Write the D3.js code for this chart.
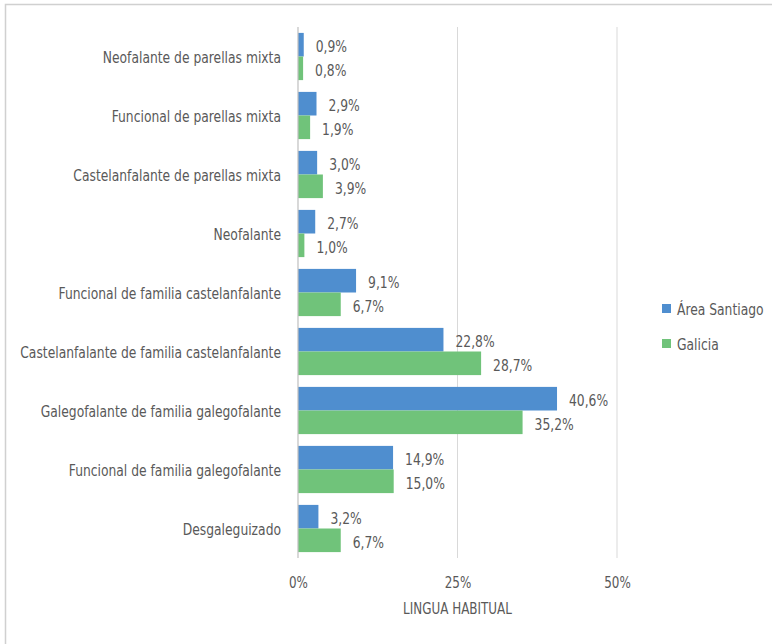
<!DOCTYPE html>
<html>
<head>
<meta charset="utf-8">
<script src="https://cdn.jsdelivr.net/npm/d3@7"></script>
<style>
  html, body { margin: 0; padding: 0; background: #fff; }
  svg { display: block; }
  text { font-family: "DejaVu Sans Condensed", "Roboto", sans-serif; fill: #595959; }
</style>
</head>
<body>
<svg id="chart" width="772" height="644"></svg>
<script>
// Categories, top to bottom
const categories = [
  "Neofalante de parellas mixta",
  "Funcional de parellas mixta",
  "Castelanfalante de parellas mixta",
  "Neofalante",
  "Funcional de familia castelanfalante",
  "Castelanfalante de familia castelanfalante",
  "Galegofalante de familia galegofalante",
  "Funcional de familia galegofalante",
  "Desgaleguizado"
];
const seriesNames = ["Área Santiago", "Galicia"];
const areaSantiago = [0.9, 2.9, 3.0, 2.7, 9.1, 22.8, 40.6, 14.9, 3.2];
const galicia      = [0.8, 1.9, 3.9, 1.0, 6.7, 28.7, 35.2, 15.0, 6.7];
const tickValues = [0, 25, 50];
const axisTitle = "LINGUA HABITUAL";
const colors = ["#4F8ECF", "#70C37A"];

const fmt = v => d3.format(".1f")(v).replace(".", ",") + "%";
const FS = 16.5;

const svg = d3.select("#chart");

// outer frame
svg.append("rect")
  .attr("x", 5.5).attr("y", 4.5)
  .attr("width", 800).attr("height", 700)
  .attr("fill", "none").attr("stroke", "#d0d0d0").attr("stroke-width", 1.5);

const x = d3.scaleLinear().domain([0, 50]).range([298, 617]);
const y = d3.scaleBand().domain(categories).range([27, 558]).paddingInner(0.2).paddingOuter(0.1);
const ySub = d3.scaleBand().domain(seriesNames).range([0, y.bandwidth()]);

// vertical grid lines
svg.append("g").selectAll("line")
  .data(tickValues.slice(1))
  .join("line")
  .attr("x1", d => x(d)).attr("x2", d => x(d))
  .attr("y1", 27).attr("y2", 558)
  .attr("stroke", "#d9d9d9").attr("stroke-width", 1);

// x tick labels
const xAxis = d3.axisBottom(x).tickValues(tickValues).tickFormat(d => d + "%").tickSize(0).tickPadding(0);
const gx = svg.append("g").attr("transform", "translate(0,577)").call(xAxis);
gx.select(".domain").remove();
gx.selectAll("text").attr("font-size", 16).attr("fill", "#595959")
  .attr("font-family", null).attr("dy", "0.71em");

// axis title
svg.append("text")
  .attr("x", x(25)).attr("y", 614)
  .attr("text-anchor", "middle")
  .attr("font-size", 16)
  .text(axisTitle);

// category labels
const yAxis = d3.axisLeft(y).tickSize(0).tickPadding(17);
const gy = svg.append("g").attr("transform", "translate(298,1.5)").call(yAxis);
gy.select(".domain").remove();
gy.selectAll("text").attr("font-size", FS).attr("fill", "#595959").attr("font-family", null);

// bars
const rows = categories.map((c, i) => ({ cat: c, vals: [areaSantiago[i], galicia[i]] }));
const groups = svg.append("g").selectAll("g")
  .data(rows).join("g")
  .attr("transform", d => `translate(0,${y(d.cat)})`);

groups.selectAll("rect")
  .data(d => d.vals.map((v, k) => ({ v, k })))
  .join("rect")
  .attr("x", x(0))
  .attr("y", d => ySub(seriesNames[d.k]))
  .attr("width", d => x(d.v) - x(0))
  .attr("height", ySub.bandwidth())
  .attr("fill", d => colors[d.k]);

// value labels
groups.selectAll("text.val")
  .data(d => d.vals.map((v, k) => ({ v, k })))
  .join("text")
  .attr("class", "val")
  .attr("x", d => x(d.v) + 12)
  .attr("y", d => ySub(seriesNames[d.k]) + ySub.bandwidth() / 2 + 1.5)
  .attr("dy", "0.35em")
  .attr("font-size", FS)
  .text(d => fmt(d.v));

// zero axis line
svg.append("line")
  .attr("x1", x(0)).attr("x2", x(0))
  .attr("y1", 27).attr("y2", 558)
  .attr("stroke", "#bfbfbf").attr("stroke-width", 1.2);

// legend
const legend = svg.append("g").selectAll("g")
  .data(seriesNames).join("g")
  .attr("transform", (d, i) => `translate(662,${304 + i * 35})`);
legend.append("rect").attr("width", 9).attr("height", 9).attr("fill", (d, i) => colors[i]);
legend.append("text").attr("x", 15).attr("y", 5).attr("dy", "0.35em")
  .attr("font-size", FS).text(d => d);

// narrow the type: compress every text horizontally about its anchor
const longest = gy.selectAll("text").nodes()
  .reduce((m, n) => Math.max(m, n.getComputedTextLength()), 0);
const k = Math.min(1, 261 / longest);
svg.selectAll("text").each(function () {
  const t = d3.select(this);
  const tx = +t.attr("x") || 0;
  const ty = +t.attr("y") || 0;
  t.attr("x", 0).attr("y", 0)
   .attr("transform", `translate(${tx},${ty}) scale(${k},1)`);
});
</script>
</body>
</html>
